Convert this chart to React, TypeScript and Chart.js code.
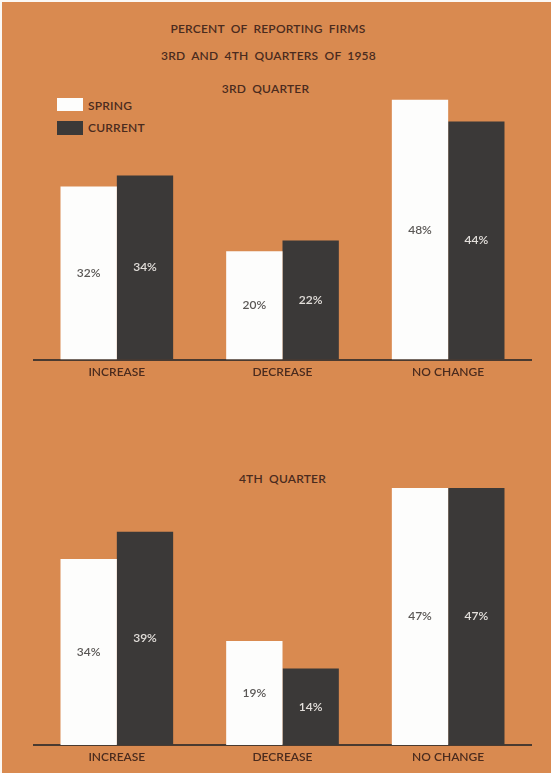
import React, { useEffect, useRef } from "react";
import { Chart, registerables } from "chart.js";

Chart.register(...registerables);

// Survey answers, percent of reporting firms
const categories = ["INCREASE", "DECREASE", "NO CHANGE"];
const seriesNames = ["SPRING", "CURRENT"];
const q3Spring = [32, 20, 48];
const q3Current = [34, 22, 44];
const q4Spring = [34, 19, 47];
const q4Current = [39, 14, 47];
const titleLines = ["PERCENT OF REPORTING FIRMS", "3RD AND 4TH QUARTERS OF 1958"];
const panelTitles = ["3RD QUARTER", "4TH QUARTER"];
const axisMax = 50;

const ORANGE = "#d98a50";
const INK = "#4a2b1e";
const DARK = "#3b3938";
const WHITE = "#fdfdfc";
const FONT = "Lato, 'DejaVu Sans', sans-serif";
const WEIGHT = 600;

// Writes each bar's percentage at the middle of the bar
const valueLabels = {
  id: "valueLabels",
  afterDatasetsDraw(chart: any) {
    const ctx = chart.ctx;
    ctx.save();
    ctx.font = `${WEIGHT} 12px ${FONT}`;
    ctx.textAlign = "center";
    ctx.textBaseline = "middle";
    chart.data.datasets.forEach((ds: any, i: number) => {
      const meta = chart.getDatasetMeta(i);
      ctx.fillStyle = i === 0 ? "#5a5755" : "#e4e0dc";
      meta.data.forEach((bar: any, j: number) => {
        const { x, y, base } = bar.getProps(["x", "y", "base"], true);
        ctx.fillText(`${ds.data[j]}%`, x, (y + base) / 2);
      });
    });
    ctx.restore();
  },
};

type PanelProps = {
  spring: number[];
  current: number[];
  top: number;
  height: number;
  padTop: number;
  padBottom: number;
};

function BarPanel({ spring, current, top, height, padTop, padBottom }: PanelProps) {
  const ref = useRef<HTMLCanvasElement | null>(null);

  useEffect(() => {
    if (!ref.current) return;
    const chart = new Chart(ref.current, {
      type: "bar",
      data: {
        labels: categories,
        datasets: [
          { label: seriesNames[0], data: spring, backgroundColor: WHITE, borderWidth: 0 },
          { label: seriesNames[1], data: current, backgroundColor: DARK, borderWidth: 0 },
        ],
      },
      options: {
        responsive: false,
        animation: false,
        layout: { padding: { top: padTop, bottom: padBottom, left: 34, right: 20 } },
        datasets: { bar: { categoryPercentage: 0.68, barPercentage: 1.0 } },
        plugins: {
          legend: { display: false },
          title: { display: false },
          tooltip: { enabled: false },
        },
        scales: {
          x: {
            grid: { display: false, drawTicks: false },
            border: { display: true, color: "#4a3a30", width: 2 },
            ticks: { color: INK, font: { family: FONT, size: 12, weight: WEIGHT }, padding: 5 },
            afterFit: (scale: any) => {
              scale.height = 25;
            },
          },
          y: { display: false, min: 0, max: axisMax },
        },
      },
      plugins: [valueLabels],
    });
    return () => chart.destroy();
  }, [spring, current, padTop, padBottom]);

  return (
    <canvas
      ref={ref}
      width={551}
      height={height}
      style={{ position: "absolute", left: 0, top, width: 551, height, display: "block" }}
    />
  );
}

const textStyle: React.CSSProperties = {
  position: "absolute",
  fontFamily: FONT,
  fontWeight: WEIGHT,
  fontSize: 12,
  color: INK,
  whiteSpace: "nowrap",
  wordSpacing: 3,
  letterSpacing: 0.2,
  lineHeight: 1,
};

function Centered({ x, y, children }: { x: number; y: number; children: React.ReactNode }) {
  return (
    <div style={{ ...textStyle, left: x, top: y, transform: "translate(-50%, -50%)" }}>{children}</div>
  );
}

export default function App() {
  return (
    <div style={{ position: "absolute", left: 0, top: 0, width: 551, height: 773, background: "#fbf8f4", overflow: "hidden" }}>
      <div style={{ position: "absolute", left: 2, top: 2, width: 549, height: 771, background: ORANGE }} />
      <Centered x={268} y={29}>{titleLines[0]}</Centered>
      <Centered x={268.5} y={55.5}>{titleLines[1]}</Centered>
      <Centered x={265.5} y={89}>{panelTitles[0]}</Centered>
      <Centered x={282.5} y={479}>{panelTitles[1]}</Centered>

      {/* legend */}
      <div style={{ position: "absolute", left: 57, top: 98, width: 26, height: 13, background: WHITE }} />
      <div style={{ position: "absolute", left: 57, top: 121, width: 26, height: 14, background: DARK }} />
      <div style={{ ...textStyle, left: 88, top: 106, transform: "translateY(-50%)" }}>{seriesNames[0]}</div>
      <div style={{ ...textStyle, left: 88, top: 128, transform: "translateY(-50%)" }}>{seriesNames[1]}</div>

      <BarPanel spring={q3Spring} current={q3Current} top={80} height={310} padTop={9} padBottom={5.5} />
      <BarPanel spring={q4Spring} current={q4Current} top={460} height={313} padTop={11.5} padBottom={3} />
    </div>
  );
}
